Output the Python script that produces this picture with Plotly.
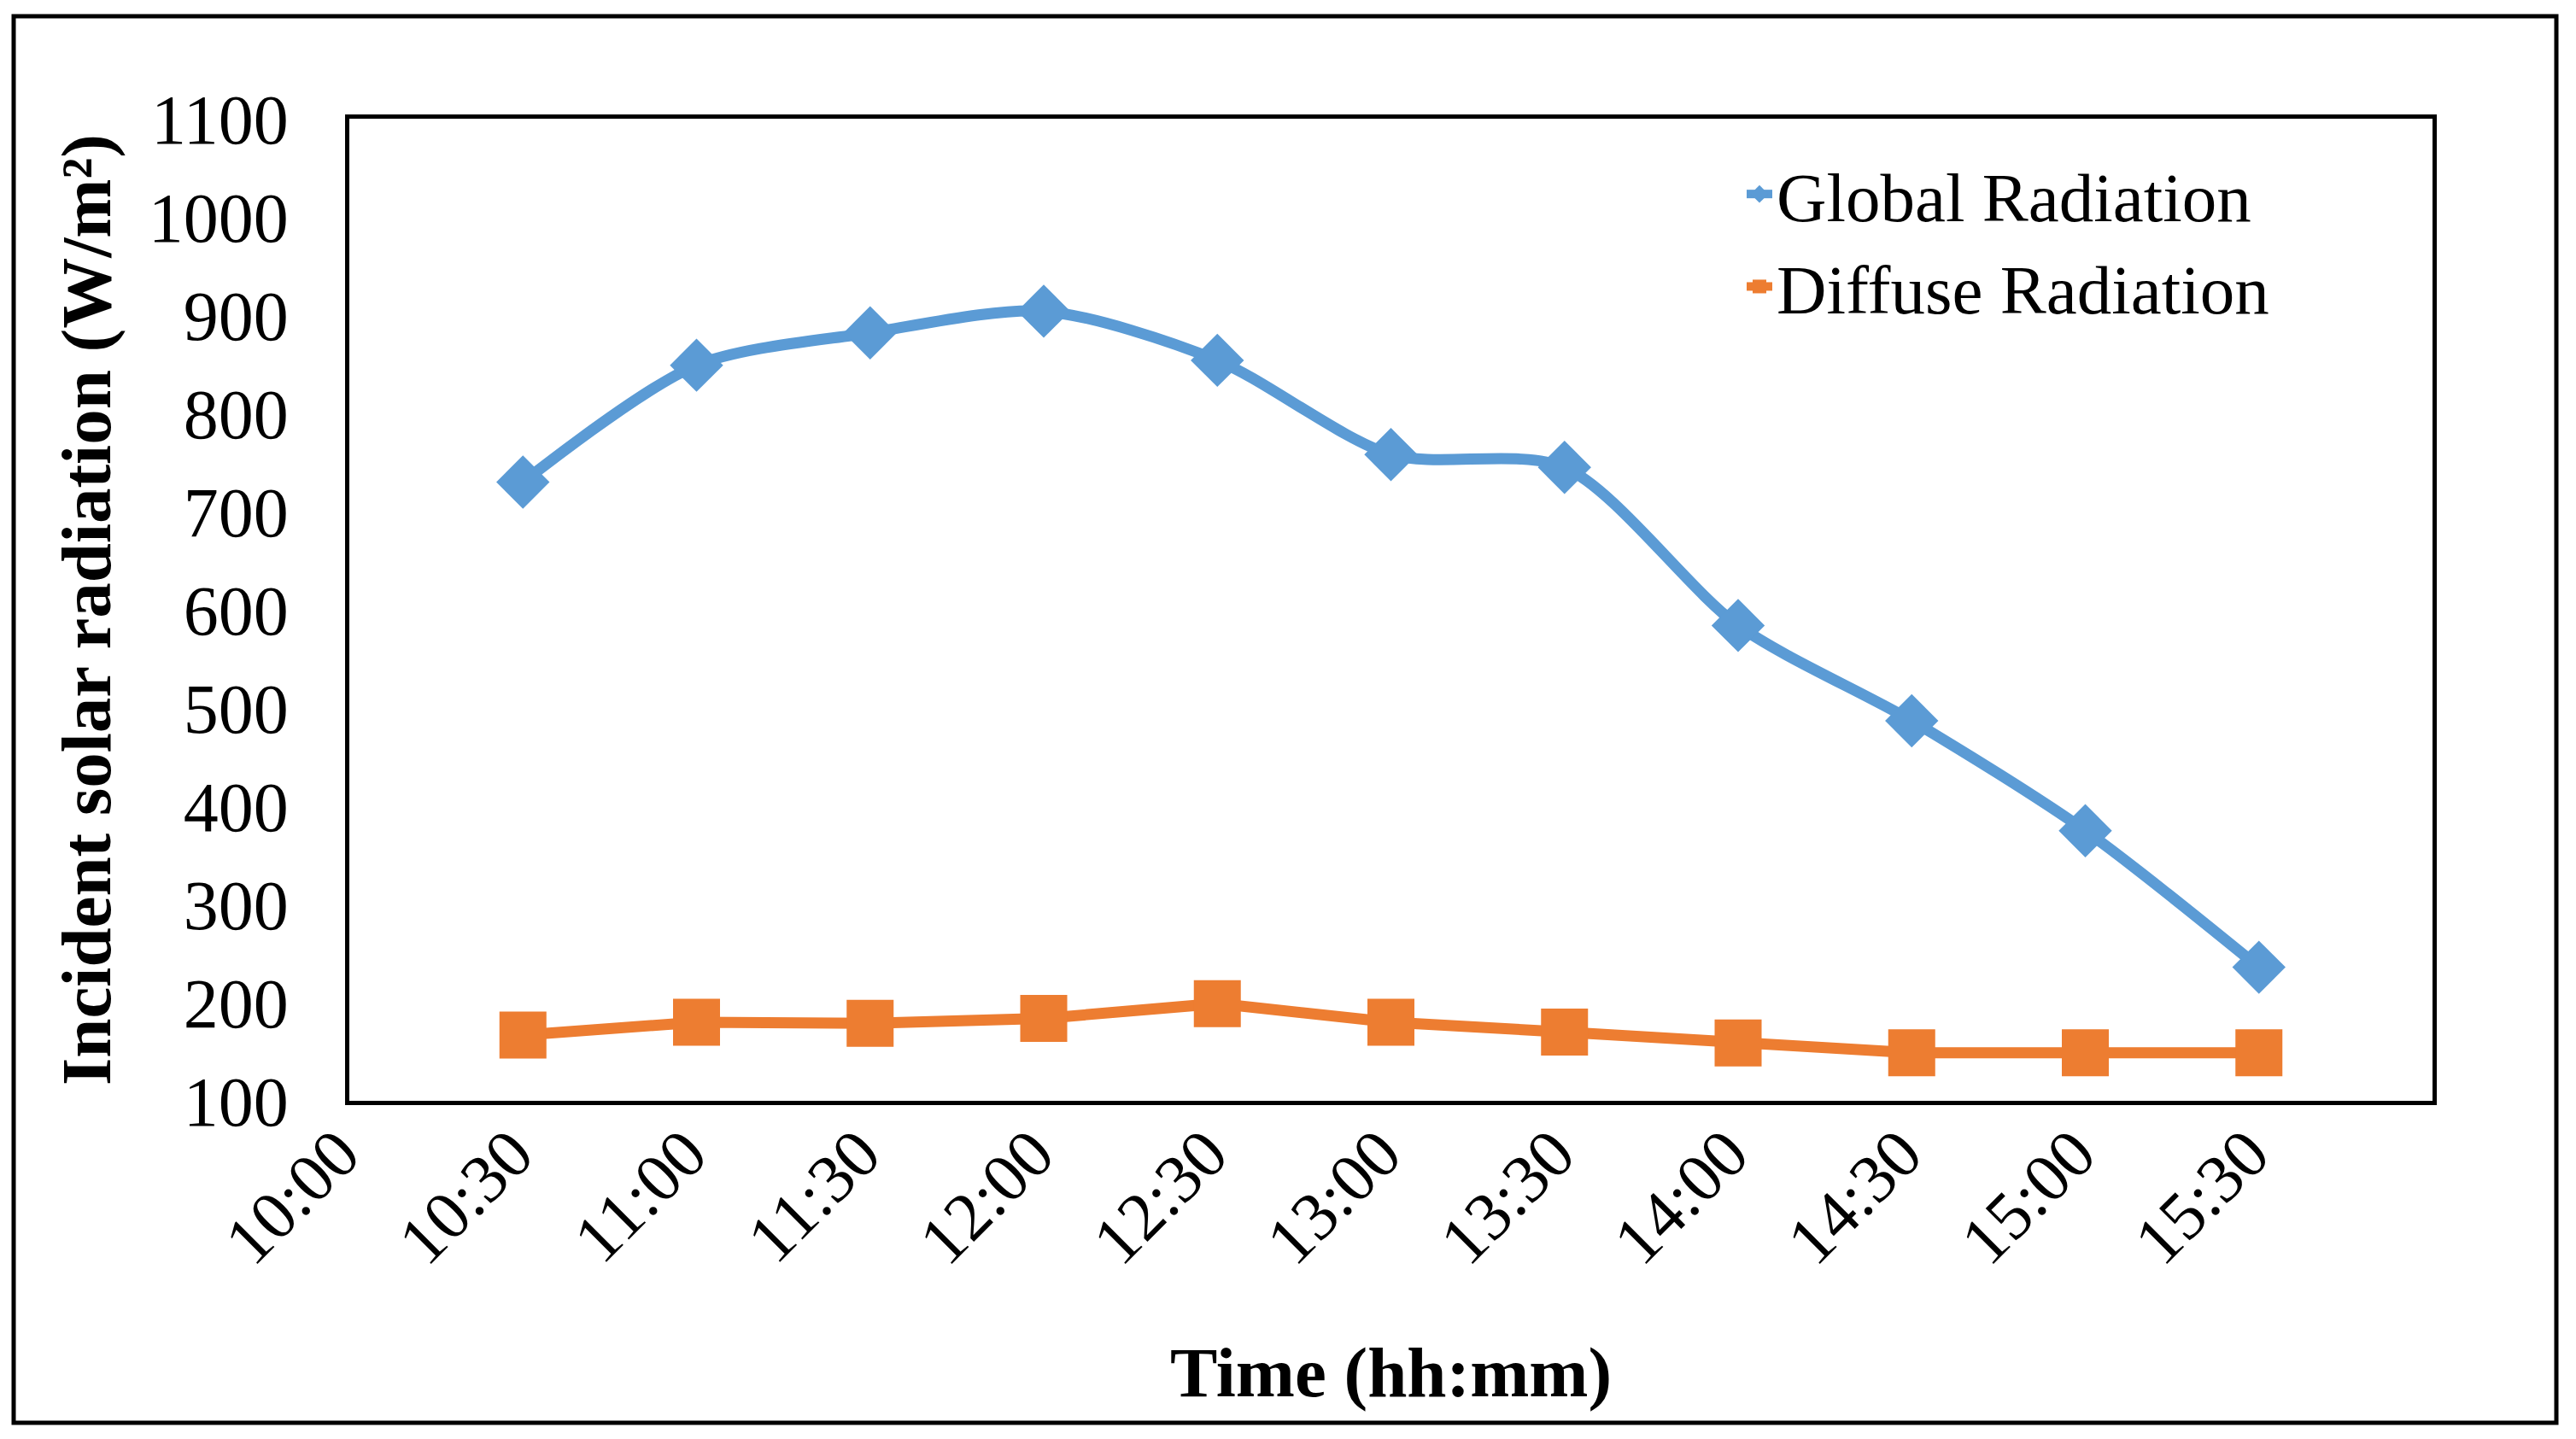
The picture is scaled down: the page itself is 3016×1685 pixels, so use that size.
import plotly.graph_objects as go

# ---- data ----
times = ["10:30", "11:00", "11:30", "12:00", "12:30", "13:00",
         "13:30", "14:00", "14:30", "15:00", "15:30"]
global_rad = [730, 849, 882, 904, 854, 758, 745, 584, 487, 375, 236]
diffuse_rad = [167, 180, 179, 184, 199, 180, 170, 159, 149, 149, 149]
tick_labels = ["10:00", "10:30", "11:00", "11:30", "12:00", "12:30",
               "13:00", "13:30", "14:00", "14:30", "15:00", "15:30"]


def to_hours(s):
    h, m = s.split(":")
    return int(h) + int(m) / 60.0


x_vals = [to_hours(t) for t in times]
tick_vals = [to_hours(t) for t in tick_labels]

FONT = "Times New Roman, Liberation Serif, serif"
BLUE = "#5B9BD5"
ORANGE = "#ED7D31"

# page body has an 8px default margin; compensate so the figure lines up
PAGE_OFF = 8
W, H = 3016 - 2 * PAGE_OFF, 1685 - 2 * PAGE_OFF
# screen-space plot box: left 409, top 139, right 2848, bottom 1289
BOX_L, BOX_T, BOX_R, BOX_B = 409, 139, 2848, 1289
L, T = BOX_L - PAGE_OFF, BOX_T - PAGE_OFF
R, B = 3016 - BOX_R - PAGE_OFF, 1685 - BOX_B - PAGE_OFF
pw = W - L - R
ph = H - T - B


def px_x(xs):
    return (xs - BOX_L) / pw


def px_y(ys):
    return (BOX_B - ys) / ph


fig = go.Figure()
fig.add_trace(go.Scatter(
    x=x_vals, y=global_rad, name="Global Radiation",
    mode="lines+markers",
    line=dict(color=BLUE, width=13, shape="spline", smoothing=0.8),
    marker=dict(symbol="diamond", size=48, color=BLUE, line=dict(width=0)),
))
fig.add_trace(go.Scatter(
    x=x_vals, y=diffuse_rad, name="Diffuse Radiation",
    mode="lines+markers",
    line=dict(color=ORANGE, width=13),
    marker=dict(symbol="square", size=55, color=ORANGE, line=dict(width=0)),
))

fig.update_layout(
    width=W, height=H,
    margin=dict(l=L, r=R, t=T, b=B, autoexpand=False),
    paper_bgcolor="white", plot_bgcolor="white",
    font=dict(family=FONT, size=80, color="black"),
    showlegend=True,
    legend=dict(
        x=px_x(2040), xanchor="left",
        y=px_y(168), yanchor="top",
        bgcolor="rgba(0,0,0,0)",
        font=dict(family=FONT, size=81, color="black"),
        itemwidth=30,
    ),
    xaxis=dict(
        range=[10, 16], tickmode="array", tickvals=tick_vals, ticktext=tick_labels,
        tickangle=-45, showgrid=False, zeroline=False,
        showline=True, linecolor="black", linewidth=4.5, mirror=True,
        ticks="", ticklabelstandoff=-22, ticklabelshift=-12,
        tickfont=dict(family=FONT, size=80, color="black"),
        title=dict(text="<b>Time (hh:mm)</b>", standoff=82,
                   font=dict(family=FONT, size=83, color="black")),
    ),
    yaxis=dict(
        range=[100, 1100], dtick=100, tick0=100, showgrid=False, zeroline=False,
        showline=True, linecolor="black", linewidth=4.5, mirror=True,
        ticks="", ticklabelstandoff=50,
        tickfont=dict(family=FONT, size=82, color="black"),
        title=dict(text="<b>Incident solar radiation (W/m²)</b>", standoff=18,
                   font=dict(family=FONT, size=83, color="black")),
    ),
)

# outer chart-area border
fig.add_shape(
    type="rect", xref="paper", yref="paper",
    x0=px_x(16), x1=px_x(2993), y0=px_y(1666), y1=px_y(19),
    line=dict(color="black", width=5), fillcolor="rgba(0,0,0,0)", layer="below",
)

fig.write_html("out.html")
